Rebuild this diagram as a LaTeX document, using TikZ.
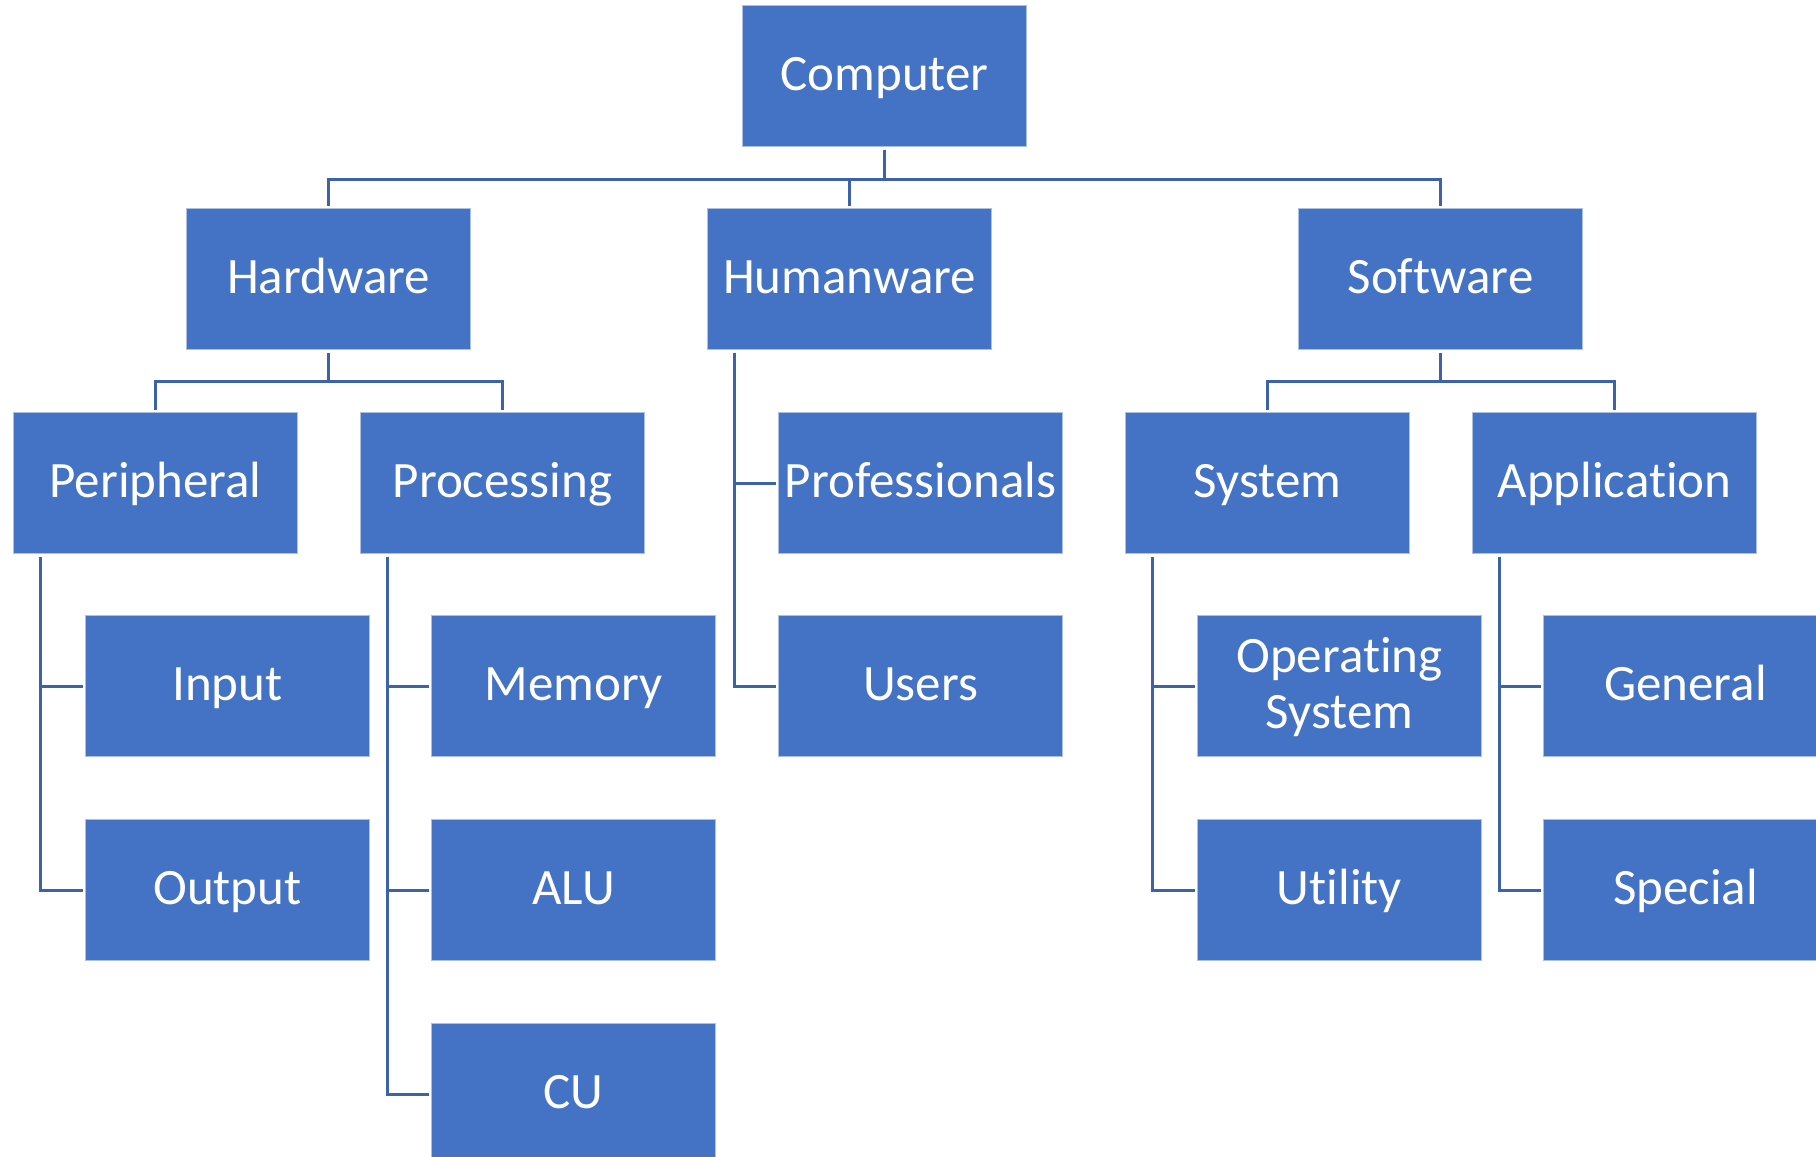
\documentclass[tikz,border=0pt]{standalone}
\usepackage{fontspec}
\setmainfont[Ligatures={NoCommon,NoRare}]{Carlito}
\definecolor{boxblue}{HTML}{4472C4}
\definecolor{lineblue}{HTML}{3B62AB}
% fixed line strut: 40pt above the baseline, 12pt below
\newcommand\boxstrut{\rule[-12pt]{0pt}{52pt}}
\begin{document}
\begin{tikzpicture}[x=1pt,y=-1pt,
  box/.style={fill=boxblue, draw=white!55!boxblue, line width=1pt,
    minimum width=284pt, minimum height=141pt, inner sep=0pt,
    anchor=north west, text=white, align=center,
    font=\fontsize{51}{56}\selectfont},
  link/.style={draw=lineblue, line width=3pt, shorten <=2.5pt, shorten >=2.5pt}]
\useasboundingbox (0,0) rectangle (1816,1157);
\clip (0,0) rectangle (1816,1157);

% level 0
\node[box] (comp) at (742,5) {\boxstrut Computer};
% level 1
\node[box] (hw) at (186,208) {\boxstrut Hardware};
\node[box] (hu) at (707,208) {\boxstrut Humanware};
\node[box] (sw) at (1298,208) {\boxstrut Software};
% level 2
\node[box] (per) at (13,412) {\boxstrut Peripheral};
\node[box] (pro) at (360,412) {\boxstrut Processing};
\node[box] (prof) at (778,412) {\boxstrut Professionals};
\node[box] (sys) at (1125,412) {\boxstrut System};
\node[box] (app) at (1472,412) {\boxstrut Application};
% level 3
\node[box] (in) at (85,615) {\boxstrut Input};
\node[box] (out) at (85,819) {\boxstrut Output};
\node[box] (mem) at (431,615) {\boxstrut Memory};
\node[box] (alu) at (431,819) {\boxstrut ALU};
\node[box] (cu) at (431,1023) {\boxstrut CU};
\node[box] (usr) at (778,615) {\boxstrut Users};
\node[box] (os) at (1197,615) {\boxstrut Operating\\\boxstrut System};
\node[box] (util) at (1197,819) {\boxstrut Utility};
\node[box] (gen) at (1543,615) {\boxstrut General};
\node[box] (spe) at (1543,819) {\boxstrut Special};

% tree branches
\foreach \c in {hw,hu,sw}
  \draw[link] (comp.south) -- ++(0,32) -| (\c.north);
\foreach \c in {per,pro}
  \draw[link] (hw.south) -- ++(0,31) -| (\c.north);
\foreach \c in {sys,app}
  \draw[link] (sw.south) -- ++(0,31) -| (\c.north);

% side branches
\foreach \p/\c in {per/in, per/out, pro/mem, pro/alu, pro/cu, hu/prof, hu/usr,
                   sys/os, sys/util, app/gen, app/spe}
  \draw[link] (\p.south west) ++(27,0) |- (\c.west);
\end{tikzpicture}
\end{document}
